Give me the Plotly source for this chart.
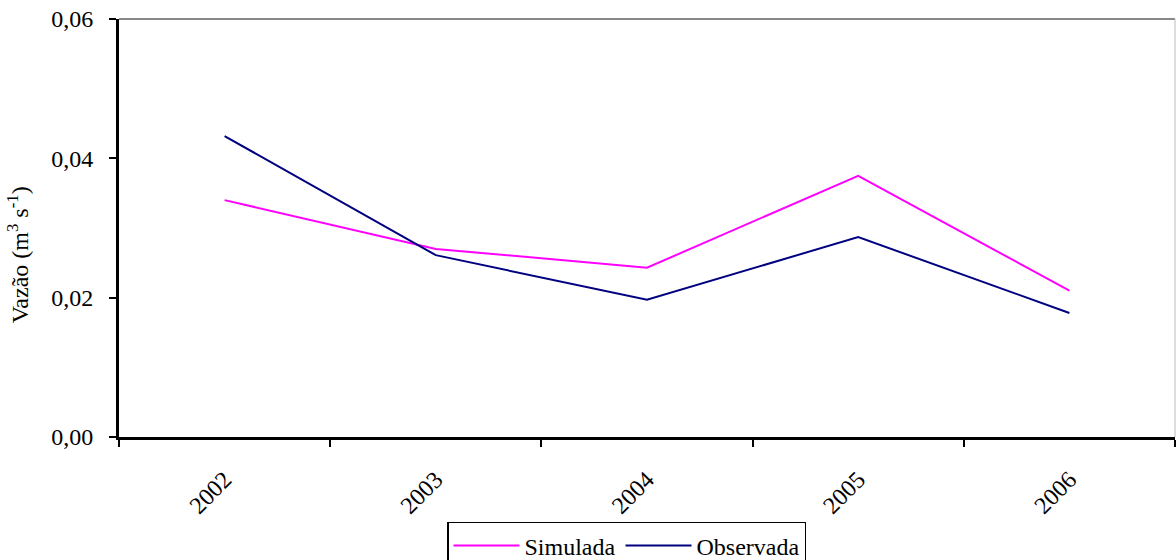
import plotly.graph_objects as go

years = ["2002", "2003", "2004", "2005", "2006"]
simulada = [0.0340, 0.0270, 0.0243, 0.0375, 0.0210]
observada = [0.0432, 0.0261, 0.0197, 0.0287, 0.0178]

font = "Liberation Serif"
fs = 24

fig = go.Figure()
fig.add_trace(go.Scatter(x=years, y=simulada, mode="lines", name="Simulada",
                         line=dict(color="#FF00FF", width=2)))
fig.add_trace(go.Scatter(x=years, y=observada, mode="lines", name="Observada",
                         line=dict(color="#000080", width=2)))

fig.update_layout(
    width=1176, height=560,
    margin=dict(l=119, r=1, t=19, b=123, autoexpand=False),
    paper_bgcolor="white", plot_bgcolor="white",
    separators=", ",
    font=dict(family=font, size=fs, color="black"),
    showlegend=True,
    legend=dict(orientation="h", x=0.4806, xanchor="center", y=-0.203, yanchor="top",
                bordercolor="black", borderwidth=1.5, font=dict(family=font, size=24),
                itemwidth=66, tracegroupgap=0, entrywidthmode="pixels"),
    xaxis=dict(type="category", range=[-0.5, 4.5], tickson="boundaries",
               ticks="outside", ticklen=7, tickwidth=2, tickcolor="black",
               showline=True, linecolor="black", linewidth=3,
               showgrid=False, zeroline=False, tickangle=-45, automargin=False,
               ticklabelstandoff=16,
               tickfont=dict(family=font, size=fs)),
    yaxis=dict(range=[0, 0.06], tickvals=[0, 0.02, 0.04, 0.06], tickformat=".2f",
               ticks="outside", ticklen=7, tickwidth=2, tickcolor="black",
               showline=True, linecolor="black", linewidth=3,
               showgrid=False, zeroline=False, automargin=False,
               ticklabelstandoff=11,
               tickfont=dict(family=font, size=fs)),
    annotations=[dict(text="Vazão (m<sup>3</sup> s<sup>-1</sup>)", textangle=-90,
                      xref="paper", yref="paper", x=-0.0955, y=0.435,
                      xanchor="center", yanchor="middle", showarrow=False,
                      font=dict(family=font, size=24))],
)
fig.add_shape(type="line", xref="paper", yref="paper", x0=0, x1=1, y0=1, y1=1,
              line=dict(color="#888888", width=2))
fig.add_shape(type="line", xref="paper", yref="paper", x0=1, x1=1, y0=0, y1=1,
              line=dict(color="#BBBBBB", width=1))

fig.write_html("out.html", config={"displayModeBar": False},
               post_script="document.body.style.margin='0';document.body.style.overflow='hidden';")
